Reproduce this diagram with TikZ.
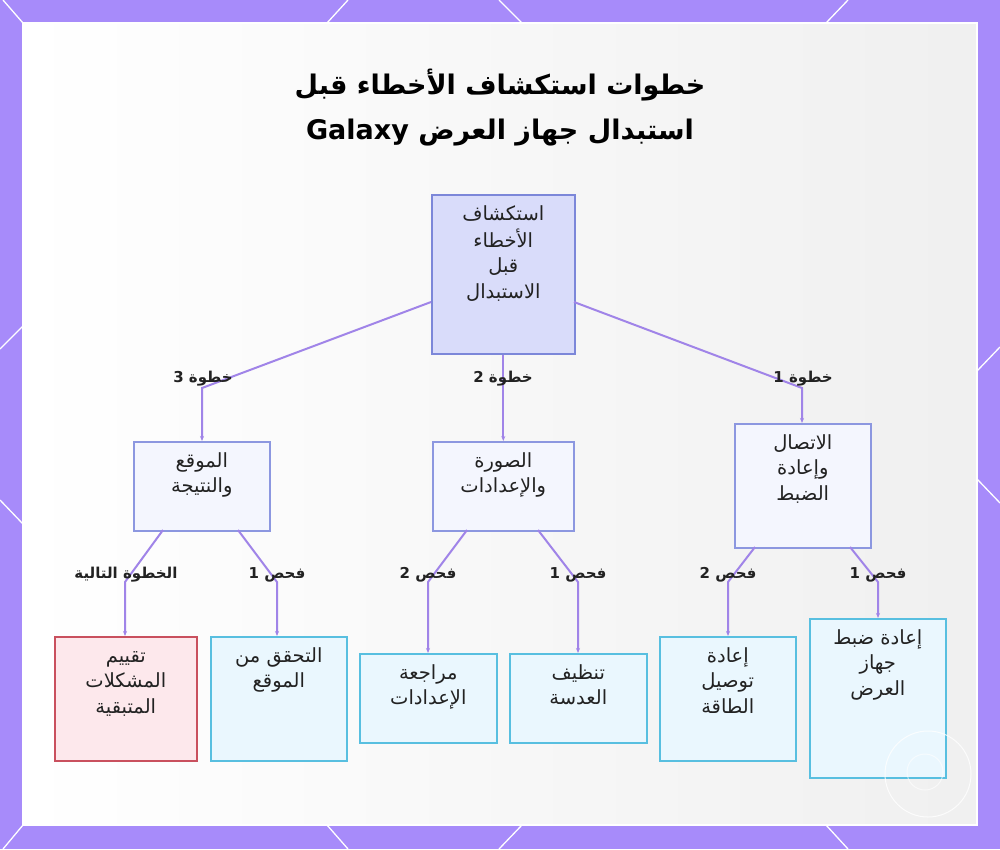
\documentclass[tikz,border=0pt]{standalone}
\usepackage{fontspec}
\usetikzlibrary{arrows.meta}
\TeXXeTstate=1
\newfontfamily\arabicfont[Script=Arabic]{DejaVu Sans}
\newcommand{\ar}[1]{{\arabicfont\beginR #1\endR}}
\newcommand{\arb}[1]{{\arabicfont\strut\beginR #1\endR}}
\definecolor{framec}{HTML}{A78BFA}
\definecolor{edgec}{HTML}{A084E8}
\definecolor{rootfill}{HTML}{D9DCFA}
\definecolor{rootdraw}{HTML}{7C87D9}
\definecolor{midfill}{HTML}{F4F6FE}
\definecolor{middraw}{HTML}{8C97E0}
\definecolor{leaffill}{HTML}{EAF7FE}
\definecolor{leafdraw}{HTML}{58BFE0}
\definecolor{redfill}{HTML}{FDE8EC}
\definecolor{reddraw}{HTML}{C9505E}
\definecolor{txtc}{HTML}{222222}
\tikzset{
  boxbase/.style={anchor=north west, inner sep=0pt, line width=1.6pt},
  rootbox/.style={boxbase, draw=rootdraw, fill=rootfill},
  midbox/.style={boxbase, draw=middraw, fill=midfill},
  leafbox/.style={boxbase, draw=leafdraw, fill=leaffill},
  redbox/.style={boxbase, draw=reddraw, fill=redfill},
  boxtext/.style={anchor=north, align=center, inner sep=0pt, text=txtc, font=\arabicfont\fontsize{19.5}{25.5}\selectfont},
  lbl/.style={inner sep=0pt, text=txtc, font=\arabicfont\bfseries\fontsize{15}{18}\selectfont},
  conn/.style={draw=edgec, line width=2pt, -{Stealth[length=5pt,width=4pt]}},
  deco/.style={draw=white, line width=1.3pt}
}
\begin{document}
\begin{tikzpicture}[x=1pt,y=-1pt]
\useasboundingbox (0,0) rectangle (1000,849);
% frame
\fill[framec] (0,0) rectangle (1000,849);
\shade[left color=white, right color=black!6] (23,23) rectangle (977,825);
\draw[white, line width=2pt] (23,23) rectangle (977,825);
% decorative lines on the frame
\draw[deco] (3,0) -- (23,23);
\draw[deco] (348,0) -- (327,23);
\draw[deco] (499,0) -- (522,23);
\draw[deco] (848,0) -- (826,23);
\draw[deco] (3,849) -- (23,825);
\draw[deco] (348,849) -- (327,825);
\draw[deco] (499,849) -- (522,825);
\draw[deco] (848,849) -- (826,825);
\draw[deco] (0,349) -- (23,326);
\draw[deco] (0,500) -- (23,524);
\draw[deco] (1000,347) -- (977,371);
\draw[deco] (1000,503) -- (977,479);
% title
\node[text=black, font=\arabicfont\bfseries\fontsize{27}{45}\selectfont, align=center] (title) at (500,108)
  {\ar{خطوات استكشاف الأخطاء قبل}\\\ar{استبدال جهاز العرض \beginL Galaxy\endL}};
% boxes
\node[rootbox, minimum width=143pt, minimum height=159pt] (root) at (431,194) {};
\node[midbox, minimum width=136pt, minimum height=89pt] (m3) at (133,441) {};
\node[midbox, minimum width=141pt, minimum height=89pt] (m2) at (432,441) {};
\node[midbox, minimum width=136pt, minimum height=124pt] (m1) at (734,423) {};
\node[redbox, minimum width=142pt, minimum height=124pt] (lnext) at (54,636) {};
\node[leafbox, minimum width=136pt, minimum height=124pt] (lverify) at (210,636) {};
\node[leafbox, minimum width=137pt, minimum height=89pt] (lreview) at (359,653) {};
\node[leafbox, minimum width=137pt, minimum height=89pt] (lclean) at (509,653) {};
\node[leafbox, minimum width=136pt, minimum height=124pt] (lpower) at (659,636) {};
\node[leafbox, minimum width=136pt, minimum height=159pt] (lreset) at (809,618) {};
% box texts
\node[boxtext] (rootT) at ([yshift=-8pt]root.north) {\arb{استكشاف}\\\arb{الأخطاء}\\\arb{قبل}\\\arb{الاستبدال}};
\node[boxtext] (m3T) at ([yshift=-8pt]m3.north) {\arb{الموقع}\\\arb{والنتيجة}};
\node[boxtext] (m2T) at ([yshift=-8pt]m2.north) {\arb{الصورة}\\\arb{والإعدادات}};
\node[boxtext] (m1T) at ([yshift=-8pt]m1.north) {\arb{الاتصال}\\\arb{وإعادة}\\\arb{الضبط}};
\node[boxtext] (lnextT) at ([yshift=-8pt]lnext.north) {\arb{تقييم}\\\arb{المشكلات}\\\arb{المتبقية}};
\node[boxtext] (lverifyT) at ([yshift=-8pt]lverify.north) {\arb{التحقق من}\\\arb{الموقع}};
\node[boxtext] (lreviewT) at ([yshift=-8pt]lreview.north) {\arb{مراجعة}\\\arb{الإعدادات}};
\node[boxtext] (lcleanT) at ([yshift=-8pt]lclean.north) {\arb{تنظيف}\\\arb{العدسة}};
\node[boxtext] (lpowerT) at ([yshift=-8pt]lpower.north) {\arb{إعادة}\\\arb{توصيل}\\\arb{الطاقة}};
\node[boxtext] (lresetT) at ([yshift=-8pt]lreset.north) {\arb{إعادة ضبط}\\\arb{جهاز}\\\arb{العرض}};
% connector coordinates
\coordinate (r3) at (431,302);
\coordinate (r1) at (574,302);
\coordinate (s3) at (202,388);
\coordinate (s1) at (802,388);
\coordinate (e3a) at (163,530);
\coordinate (e3b) at (238,530);
\coordinate (e2a) at (467,530);
\coordinate (e2b) at (538,530);
\coordinate (e1a) at (755,547);
\coordinate (e1b) at (850,547);
\coordinate (bnext) at (125,582);
\coordinate (bverify) at (277,582);
\coordinate (breview) at (428,582);
\coordinate (bclean) at (578,582);
\coordinate (bpower) at (728,582);
\coordinate (breset) at (878,582);
% connectors
\draw[conn] (r3) -- (s3) -- (s3 |- m3.north);
\draw[conn] (root.south) -- (m2.north);
\draw[conn] (r1) -- (s1) -- (s1 |- m1.north);
\draw[conn] (e3a) -- (bnext) -- (bnext |- lnext.north);
\draw[conn] (e3b) -- (bverify) -- (bverify |- lverify.north);
\draw[conn] (e2a) -- (breview) -- (breview |- lreview.north);
\draw[conn] (e2b) -- (bclean) -- (bclean |- lclean.north);
\draw[conn] (e1a) -- (bpower) -- (bpower |- lpower.north);
\draw[conn] (e1b) -- (breset) -- (breset |- lreset.north);
% connector labels
\node[lbl] (k3) at (203,379) {\ar{خطوة 3}};
\node[lbl] (k2) at (503,379) {\ar{خطوة 2}};
\node[lbl] (k1) at (803,379) {\ar{خطوة 1}};
\node[lbl] (knext) at (126,575) {\ar{الخطوة التالية}};
\node[lbl] (kverify) at (277,575) {\ar{فحص 1}};
\node[lbl] (kreview) at (428,575) {\ar{فحص 2}};
\node[lbl] (kclean) at (578,575) {\ar{فحص 1}};
\node[lbl] (kpower) at (728,575) {\ar{فحص 2}};
\node[lbl] (kreset) at (878,575) {\ar{فحص 1}};
% faint watermark circle
\draw[white, line width=1pt, opacity=0.8] (928,774) circle (43);
\draw[white, line width=1pt, opacity=0.6] (925,772) circle (18);
\end{tikzpicture}
\end{document}
